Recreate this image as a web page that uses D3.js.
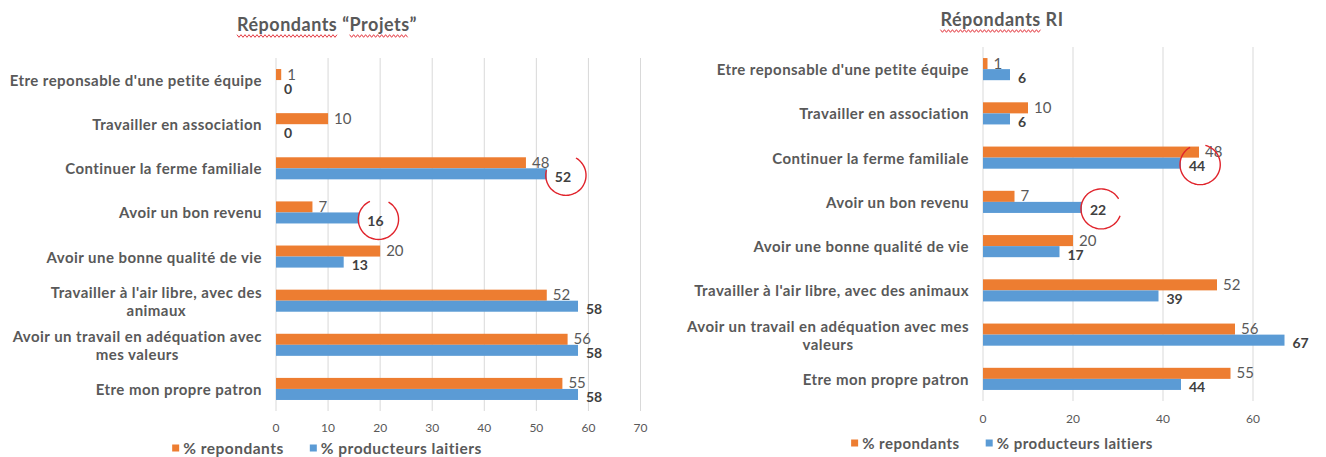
<!DOCTYPE html>
<html>
<head>
<meta charset="utf-8">
<title>Répondants</title>
<style>
  body { margin: 0; background: #fff; }
  svg text { font-family: Lato, "Open Sans", sans-serif; }
</style>
</head>
<body>
<script src="https://d3js.org/d3.v7.min.js"></script>
<script>
// ---- data ----
var categories = [
  "Etre reponsable d'une petite équipe",
  "Travailler en association",
  "Continuer la ferme familiale",
  "Avoir un bon revenu",
  "Avoir une bonne qualité de vie",
  "Travailler à l'air libre, avec des animaux",
  "Avoir un travail en adéquation avec mes valeurs",
  "Etre mon propre patron"
];
// how each chart wraps the category labels
var labelsProjets = [
  ["Etre reponsable d'une petite équipe"],
  ["Travailler en association"],
  ["Continuer la ferme familiale"],
  ["Avoir un bon revenu"],
  ["Avoir une bonne qualité de vie"],
  ["Travailler à l'air libre, avec des", "animaux"],
  ["Avoir un travail en adéquation avec", "mes valeurs"],
  ["Etre mon propre patron"]
];
var labelsRI = [
  ["Etre reponsable d'une petite équipe"],
  ["Travailler en association"],
  ["Continuer la ferme familiale"],
  ["Avoir un bon revenu"],
  ["Avoir une bonne qualité de vie"],
  ["Travailler à l'air libre, avec des animaux"],
  ["Avoir un travail en adéquation avec mes", "valeurs"],
  ["Etre mon propre patron"]
];
var seriesNames = ["% repondants", "% producteurs laitiers"];

var projetsRepondants = [1, 10, 48, 7, 20, 52, 56, 55];
var projetsLaitiers   = [0, 0, 52, 16, 13, 58, 58, 58];
var riRepondants      = [1, 10, 48, 7, 20, 52, 56, 55];
var riLaitiers        = [6, 6, 44, 22, 17, 39, 67, 44];

var ticksProjets = [0, 10, 20, 30, 40, 50, 60, 70];
var ticksRI      = [0, 20, 40, 60];

// hand-drawn red circles: category index of the circled blue label, arc start/end (deg)
var circledProjets = [{i: 2, a0: -60, a1: 195}, {i: 3, a0: -60, a1: 245}];
var circledRI      = [{i: 2, a0: -75, a1: 240}, {i: 3, a0: 20, a1: 330}];

var orange = "#ED7D31", blue = "#5B9BD5", grid = "#D9D9D9",
    txt = "#595959", dark = "#404040", red = "#E0242C";

var svg = d3.select("body").append("svg")
  .attr("width", 1326).attr("height", 457);

function squiggle(g, x0, x1, y) {
  var pts = [];
  for (var x = x0, k = 0; x <= x1; x += 2, k++) pts.push([x, y + (k % 2 ? 1.3 : -1.3)]);
  g.append("path").attr("d", d3.line()(pts))
    .attr("fill", "none").attr("stroke", red).attr("stroke-width", 0.9);
}

function drawChart(cfg) {
  var g = svg.append("g");

  var x = d3.scaleLinear().domain([0, cfg.max]).range(cfg.xRange);
  var y = d3.scaleBand().domain(d3.range(categories.length))
    .range(cfg.yRange).paddingInner(0.5).paddingOuter(0.25);
  var half = y.bandwidth() / 2;

  // gridlines (the one at the right end falls off the page on the RI chart)
  g.selectAll(".grid").data(cfg.ticks.concat([cfg.max])).enter().append("line")
    .attr("x1", function(d) { return x(d); }).attr("x2", function(d) { return x(d); })
    .attr("y1", cfg.yRange[0]).attr("y2", cfg.yRange[1])
    .attr("stroke", grid).attr("stroke-width", 1);

  // tick labels
  g.selectAll(".tick").data(cfg.ticks).enter().append("text")
    .attr("x", function(d) { return x(d); }).attr("y", cfg.tickY)
    .attr("text-anchor", "middle").attr("dominant-baseline", "central")
    .attr("font-size", 12).attr("fill", txt)
    .text(function(d) { return d; });

  // bars
  g.selectAll(".bo").data(cfg.a).enter().append("rect")
    .attr("x", x(0)).attr("y", function(d, i) { return y(i); })
    .attr("width", function(d) { return x(d) - x(0); }).attr("height", half)
    .attr("fill", orange);
  g.selectAll(".bb").data(cfg.b).enter().append("rect")
    .attr("x", x(0)).attr("y", function(d, i) { return y(i) + half; })
    .attr("width", function(d) { return x(d) - x(0); }).attr("height", half)
    .attr("fill", blue);

  // value labels
  g.selectAll(".lo").data(cfg.a).enter().append("text")
    .attr("x", function(d) { return x(d) + 6; })
    .attr("y", function(d, i) { return y(i) + half / 2 - 1; })
    .attr("dominant-baseline", "central")
    .attr("font-size", 15).attr("fill", txt)
    .text(function(d) { return d; });
  var lb = g.selectAll(".lb").data(cfg.b).enter().append("text")
    .attr("x", function(d) { return x(d) + 8; })
    .attr("y", function(d, i) { return y(i) + half * 1.5 + 2.5; })
    .attr("dominant-baseline", "central")
    .attr("font-size", 14).attr("font-weight", "bold").attr("fill", dark)
    .text(function(d) { return d; });

  // category labels
  var right = x(0) - 14, lh = 18;
  cfg.labels.forEach(function(lines, i) {
    var cy = y(i) + half;
    var t = g.append("text").attr("font-size", 15).attr("font-weight", "bold")
      .attr("letter-spacing", 0.45)
      .attr("fill", txt).attr("dominant-baseline", "central");
    if (lines.length === 1) {
      t.attr("x", right).attr("y", cy).attr("text-anchor", "end").text(lines[0]);
    } else {
      t.attr("text-anchor", "middle");
      var spans = lines.map(function(l, j) {
        return t.append("tspan").attr("y", cy + (j - (lines.length - 1) / 2) * lh).text(l);
      });
      var w = spans[0].node().getComputedTextLength();
      spans.forEach(function(s) { s.attr("x", right - w / 2); });
    }
  });

  // title
  var title = g.append("text").attr("x", cfg.cx).attr("y", cfg.titleY)
    .attr("text-anchor", "middle").attr("font-size", 18).attr("font-weight", "bold")
    .attr("letter-spacing", 0.5)
    .attr("fill", txt).text(cfg.title);
  var tn = title.node(), tw = tn.getComputedTextLength(), tx0 = cfg.cx - tw / 2;
  cfg.squiggles.forEach(function(s) {
    var a = tn.getSubStringLength(0, s[0]), b = tn.getSubStringLength(0, s[1]);
    squiggle(g, tx0 + a, tx0 + b, cfg.titleY + 5);
  });

  // legend
  var leg = g.append("g");
  var pos = 0;
  seriesNames.forEach(function(name, k) {
    leg.append("rect").attr("x", pos).attr("y", -3.5).attr("width", 7).attr("height", 7)
      .attr("fill", k ? blue : orange);
    var t = leg.append("text").attr("x", pos + 11).attr("y", 0)
      .attr("dominant-baseline", "central").attr("font-size", cfg.legendSize)
      .attr("letter-spacing", 0.5)
      .attr("font-weight", "bold").attr("fill", txt).text(name);
    pos += 11 + t.node().getComputedTextLength() + 26;
  });
  pos -= 26;
  leg.attr("transform", "translate(" + (cfg.cx - pos / 2) + "," + cfg.legendY + ")");

  // red hand-drawn circles
  cfg.circled.forEach(function(c) {
    var node = lb.nodes()[c.i], w = node.getComputedTextLength();
    var cx = +node.getAttribute("x") + w / 2 + 3, cy = +node.getAttribute("y") - 1;
    var rx = w / 2 + 12, ry = 20, pts = [];
    for (var a = c.a0; a <= c.a1; a += 5) {
      var r = a * Math.PI / 180;
      pts.push([cx + rx * Math.cos(r), cy + ry * Math.sin(r)]);
    }
    g.append("path").attr("d", d3.line().curve(d3.curveCatmullRom)(pts))
      .attr("fill", "none").attr("stroke", red).attr("stroke-width", 1.4);
  });
}

drawChart({
  title: "Répondants \u201CProjets\u201D", squiggles: [[0, 10], [12, 19]],
  cx: 327, titleY: 31,
  labels: labelsProjets, a: projetsRepondants, b: projetsLaitiers,
  max: 70, ticks: ticksProjets, xRange: [276, 640.5], yRange: [58, 411],
  tickY: 427, legendY: 448, legendSize: 15.5, circled: circledProjets
});
drawChart({
  title: "Répondants RI", squiggles: [[0, 10]],
  cx: 1002, titleY: 26,
  labels: labelsRI, a: riRepondants, b: riLaitiers,
  max: 80, ticks: ticksRI, xRange: [983, 1343], yRange: [47, 401],
  tickY: 418, legendY: 443, legendSize: 15, circled: circledRI
});
</script>
</body>
</html>
